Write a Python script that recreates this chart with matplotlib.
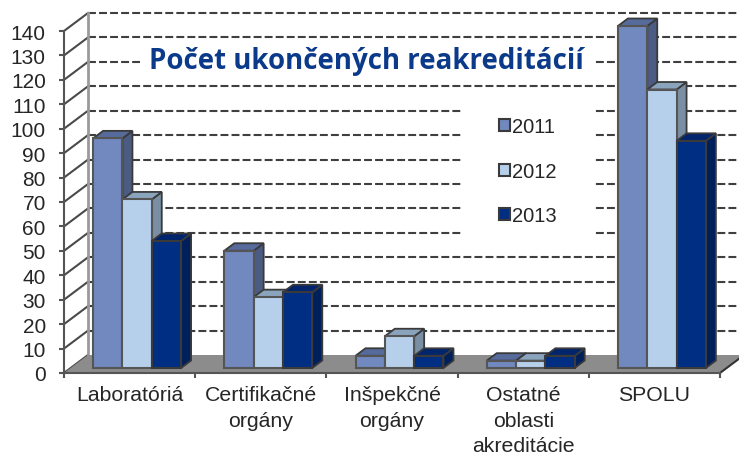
#!/usr/bin/env python
import numpy as np
import matplotlib
matplotlib.use('Agg')
import matplotlib.pyplot as plt
from matplotlib.patches import Polygon, Patch, Rectangle
from matplotlib.transforms import IdentityTransform, offset_copy

plt.rcParams['font.family'] = ['Liberation Sans', 'DejaVu Sans']

categories = ['Laboratóriá', 'Certifikačné\norgány', 'Inšpekčné\norgány',
              'Ostatné\noblasti\nakreditácie', 'SPOLU']
years = ['2011', '2012', '2013']
v2011 = [94, 48, 5, 3, 140]
v2012 = [69, 29, 13, 3, 114]
v2013 = [52, 31, 5, 5, 93]
yticks = np.arange(0, 150, 10)

front_colors = ['#7189BF', '#B6D0EC', '#002E83']
side_colors = ['#4B5B82', '#7A8FA3', '#00205C']
top_colors = ['#566B9C', '#8BA4BE', '#00256C']
EDGE = '#3A3A3A'
TEXT = '#262626'

# 3d look, in pixels: wall depth, and how far bars sit from the front and go back
WALL = (24.0, 18.0)
BAR_FRONT = (7.5, 5.0)
BAR_DEPTH = (10.0, 7.5)
W = 0.2235

fig = plt.figure(figsize=(7.39, 4.56), dpi=100)
ax = fig.add_axes([64/739, (456-374)/456, 656/739, 342/456])
ax.set_xlim(0, 5)
ax.set_ylim(0, 140)
ax.patch.set_visible(False)
px = IdentityTransform()


def to_px(x, y, off=(0, 0)):
    p = ax.transData.transform((x, y))
    return p[0]+off[0], p[1]+off[1]


# back wall grid and the slanted lines on the left wall
for v in yticks:
    x0, y0 = to_px(0, v)
    x1, y1 = to_px(0, v, WALL)
    ax.plot([x0, x1], [y0, y1], color='#4A4A4A', lw=1.5, transform=px, clip_on=False, zorder=1)
    if v > 0:
        ax.plot([x1, 739], [y1, y1], color='#3F3F3F', lw=1.5, ls=(0, (3.8, 1.5)),
                transform=px, clip_on=False, zorder=1)
xw, yw0 = to_px(0, 0, WALL)
xw, yw1 = to_px(0, 140, WALL)
ax.plot([xw, xw], [yw0, yw1], color='#9A9A9A', lw=2, transform=px, clip_on=False, zorder=1)

# white boxes that hide the grid behind legend and title
ax.add_patch(Rectangle((461, 456-245), 134, 150, fc='white', ec='none',
                       transform=px, clip_on=False, zorder=1.5))
ax.add_patch(Rectangle((140, 456-74), 455, 24, fc='white', ec='none',
                       transform=px, clip_on=False, zorder=1.5))

# floor
floor = [to_px(0, 0), to_px(5, 0), to_px(5, 0, WALL), to_px(0, 0, WALL)]
ax.add_patch(Polygon(floor, closed=True, fc='#8C8C8C', ec='none', transform=px,
                     clip_on=False, zorder=2))
ax.plot([floor[1][0], floor[2][0]], [floor[1][1], floor[2][1]], color='#333333', lw=1.5,
        transform=px, clip_on=False, zorder=2)

# bars
front_tr = offset_copy(ax.transData, fig=fig, x=BAR_FRONT[0], y=BAR_FRONT[1], units='dots')
z = 3
for i, vals in enumerate([v2011, v2012, v2013]):
    for c, v in enumerate(vals):
        x = c+0.5+(i-1)*W
        l, r = x-W/2, x+W/2
        a = to_px(r, 0, BAR_FRONT)
        b = to_px(r, v, BAR_FRONT)
        d = to_px(l, v, BAR_FRONT)
        side = [a, b, (b[0]+BAR_DEPTH[0], b[1]+BAR_DEPTH[1]), (a[0]+BAR_DEPTH[0], a[1]+BAR_DEPTH[1])]
        top = [d, b, (b[0]+BAR_DEPTH[0], b[1]+BAR_DEPTH[1]), (d[0]+BAR_DEPTH[0], d[1]+BAR_DEPTH[1])]
        ax.add_patch(Polygon(side, closed=True, fc=side_colors[i], ec=EDGE, lw=1.3,
                             transform=px, clip_on=False, zorder=z+i))
        ax.add_patch(Polygon(top, closed=True, fc=top_colors[i], ec=EDGE, lw=1.3,
                             transform=px, clip_on=False, zorder=z+i))
        ax.bar(x, v, W, color=front_colors[i], edgecolor=EDGE if i == 2 else '#555555', lw=1.5,
               transform=front_tr, clip_on=False, zorder=z+i+0.5)

# axes
for s in ['top', 'right']:
    ax.spines[s].set_visible(False)
for s in ['left', 'bottom']:
    ax.spines[s].set_color('#555555')
    ax.spines[s].set_linewidth(1.5)
    ax.spines[s].set_zorder(8)
ax.set_yticks(yticks)
ax.tick_params(axis='y', length=3.6, width=1.5, color='#555555', pad=9.5, labelsize=15, labelcolor=TEXT)
ax.set_xticks(np.arange(6))
ax.set_xticklabels([])
ax.tick_params(axis='x', which='major', length=3.6, width=1.5, color='#555555')
ax.set_xticks(np.arange(5)+0.5, minor=True)
ax.set_xticklabels(categories, minor=True, fontsize=15.3, color=TEXT, linespacing=1.42)
ax.tick_params(axis='x', which='minor', length=0, pad=9)

# title
fig.text(366.5/739, 1-62/456, 'Počet ukončených reakreditácií', family=['Open Sans', 'DejaVu Sans'],
         fontweight='bold', fontsize=19.9, color='#0B3A8A', ha='center', va='center', zorder=10)

# legend
handles = [Patch(fc=front_colors[i], ec=EDGE, lw=1.5) for i in range(3)]
leg = ax.legend(handles, years, loc='center', bbox_to_anchor=(0.707, 0.59), frameon=False,
                fontsize=14.5, handlelength=0.55, handleheight=0.55, handletextpad=0.12,
                labelspacing=1.27, borderpad=0, labelcolor=TEXT)
leg.set_zorder(10)

plt.savefig('out.png', dpi=100)
